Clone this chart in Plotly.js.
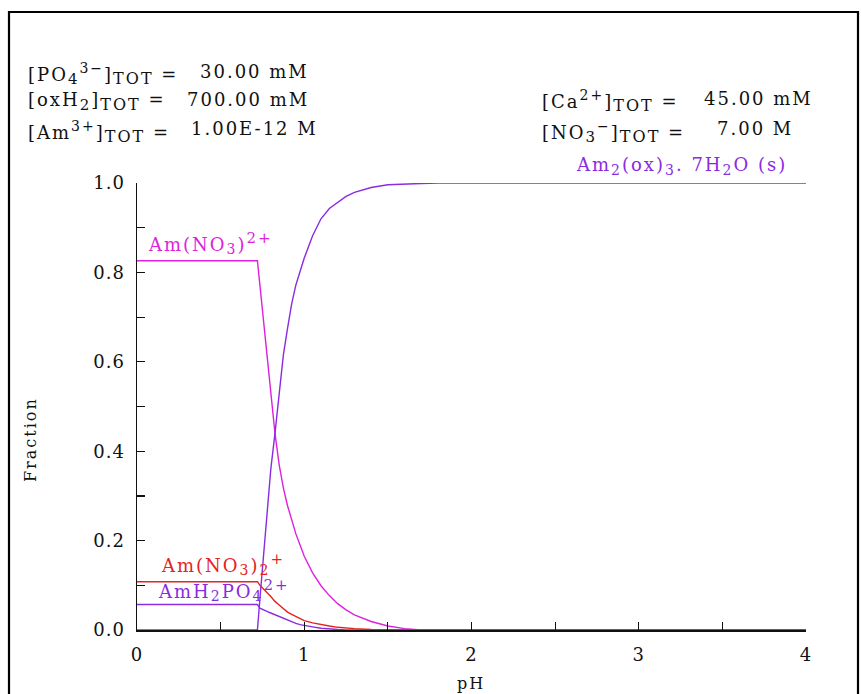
<!DOCTYPE html>
<html>
<head>
<meta charset="utf-8">
<script src="https://cdn.plot.ly/plotly-3.0.1.min.js"></script>
<style>
  body { margin: 0; background: #fff; }
  .annotation-text { letter-spacing: 2px; }
  .xtick text, .ytick text { letter-spacing: 1px; }
</style>
</head>
<body>
<div id="chart"></div>
<script>
// pH grid and species fractions
const pH = [0, 0.72, 0.735, 0.75, 0.78, 0.8, 0.825, 0.85, 0.875, 0.9, 0.925, 0.95, 0.975, 1.0,
  1.05, 1.1, 1.15, 1.2, 1.25, 1.3, 1.4, 1.5, 1.6, 1.7, 1.8, 2.0, 3.0, 4.0];

const amOxSolid = [0, 0, 0.07, 0.14, 0.27, 0.36, 0.44, 0.53, 0.615, 0.675, 0.73, 0.772, 0.805, 0.832,
  0.882, 0.92, 0.943, 0.957, 0.97, 0.979, 0.99, 0.996, 0.998, 0.999, 1.0, 1.0, 1.0, 1.0];
const amNO3 = [0.826, 0.826, 0.771, 0.716, 0.605, 0.532, 0.44, 0.37, 0.318, 0.278, 0.245, 0.215, 0.19, 0.165,
  0.128, 0.099, 0.077, 0.059, 0.045, 0.034, 0.019, 0.009, 0.003, 0, 0, 0, 0, 0];
const amNO3_2 = [0.108, 0.108, 0.1, 0.095, 0.083, 0.075, 0.064, 0.056, 0.048, 0.04, 0.035, 0.03, 0.025, 0.021,
  0.016, 0.012, 0.009, 0.006, 0.004, 0.003, 0.001, 0, 0, 0, 0, 0, 0, 0];
const amH2PO4 = [0.057, 0.057, 0.049, 0.046, 0.041, 0.038, 0.034, 0.03, 0.026, 0.022, 0.018, 0.015, 0.012, 0.01,
  0.007, 0.004, 0.002, 0.001, 0, 0, 0, 0, 0, 0, 0, 0, 0, 0];

const sub = (t, s) => "<sub><span style=\"font-size:" + s + "px\">" + t + "</span></sub>";
const sup = (t, s) => "<sup><span style=\"font-size:" + s + "px\">" + t + "</span></sup>";

const totalLabels = [
  "[PO" + sub("4", 15) + sup("3−", 14) + "]" + sub("TOT", 16) + " =",
  "[oxH" + sub("2", 15) + "]" + sub("TOT", 16) + " =",
  "[Am" + sup("3+", 14) + "]" + sub("TOT", 16) + " =",
  "[Ca" + sup("2+", 14) + "]" + sub("TOT", 16) + " =",
  "[NO" + sub("3", 15) + sup("−", 14) + "]" + sub("TOT", 16) + " =",
];
const totalValues = ["30.00 mM", "700.00 mM", "1.00E-12 M", "45.00 mM", "7.00 M"];

const PURPLE = "#8a2be2";
const MAGENTA = "#dd22dd";
const RED = "#e52222";
const INK = "#111111";
const SERIF = "DejaVu Serif, Liberation Serif, serif";

// plot box in pixels
const W = 861, H = 694;
const L = 137, R = 806, T = 183, B = 630;
const fx = (x) => (x - L) / (R - L);
const fy = (y) => (B - y) / (B - T);

function line(y, color, name) {
  return {
    x: pH, y: y, name: name, type: "scatter", mode: "lines",
    line: { color: color, width: 1.4 }, hoverinfo: "skip",
  };
}

const data = [
  line(amNO3, MAGENTA, "Am(NO3)2+"),
  line(amNO3_2, RED, "Am(NO3)2 +"),
  line(amH2PO4, PURPLE, "AmH2PO4 2+"),
  line(amOxSolid, PURPLE, "Am2(ox)3.7H2O(s)"),
];

function note(text, x, y, color, extra) {
  return Object.assign({
    text: text, xref: "paper", yref: "paper", x: fx(x), y: fy(y),
    xanchor: "left", yanchor: "middle", showarrow: false,
    font: { family: SERIF, size: 18, color: color || INK },
  }, extra || {});
}

const annotations = [
  note(totalLabels[0], 26, 74), note(totalValues[0], 198, 71),
  note(totalLabels[1], 26, 102), note(totalValues[1], 185, 99),
  note(totalLabels[2], 26, 132), note(totalValues[2], 189, 129),
  note(totalLabels[3], 540, 101), note(totalValues[3], 702, 98),
  note(totalLabels[4], 540, 132), note(totalValues[4], 715, 129),
  note("Am" + sub("2", 14) + "(ox)" + sub("3", 14) + ". 7H" + sub("2", 14) + "O (s)", 574, 166, PURPLE),
  note("Am(NO" + sub("3", 14) + ")" + sup("2+", 15), 146, 243, MAGENTA),
  note("Am(NO" + sub("3", 14) + ")" + sub("2", 14) + sup("+", 15), 159, 564, RED),
  note("AmH" + sub("2", 14) + "PO" + sub("4", 14) + sup("2+", 15), 156, 590, PURPLE),
  note("Fraction", 30, 440, null, { xanchor: "center", textangle: -90, font: { family: SERIF, size: 16, color: INK } }),
  note("pH", 471, 683, null, { xanchor: "center", font: { family: SERIF, size: 16, color: INK } }),
];

const axisBase = {
  showgrid: false, zeroline: false, showline: true,
  linecolor: "#111", linewidth: 1.5,
  ticks: "inside", ticklen: 8, tickwidth: 1.2, tickcolor: "#111",
  tickfont: { family: SERIF, size: 18, color: INK },
  fixedrange: true,
};

const layout = {
  width: W, height: H, autosize: false,
  margin: { l: L, r: W - R, t: T, b: H - B, pad: 0 },
  paper_bgcolor: "#ffffff", plot_bgcolor: "#ffffff",
  showlegend: false,
  xaxis: Object.assign({}, axisBase, {
    range: [0, 4], dtick: 1, tick0: 0, ticklabelstandoff: 8,
    minor: { dtick: 0.5, ticks: "inside", ticklen: 8, tickwidth: 1.2, tickcolor: "#111", showgrid: false },
  }),
  yaxis: Object.assign({}, axisBase, {
    range: [0, 1], dtick: 0.2, tick0: 0, tickformat: ".1f", ticklabelstandoff: 7,
    minor: { dtick: 0.1, ticks: "inside", ticklen: 8, tickwidth: 1.2, tickcolor: "#111", showgrid: false },
  }),
  annotations: annotations,
  shapes: [{
    type: "rect", xref: "paper", yref: "paper", layer: "below",
    x0: fx(9), x1: fx(858), y0: fy(720), y1: fy(12),
    line: { color: "#000", width: 2.2 },
  }],
};

Plotly.newPlot("chart", data, layout, { displayModeBar: false, staticPlot: true });
</script>
</body>
</html>
